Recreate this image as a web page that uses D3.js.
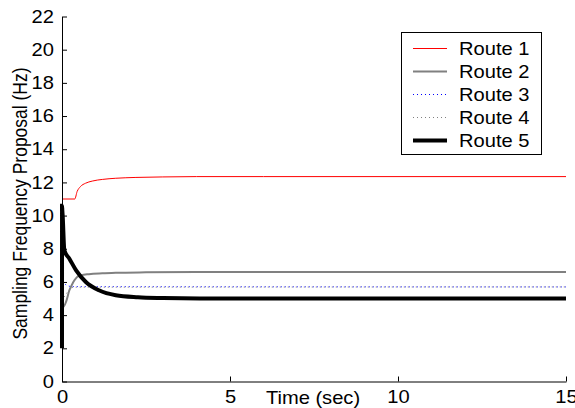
<html>
<head>
<title>Sampling frequency proposal</title>
<style>
    body { margin: 0; background: #fff; }
    svg { font-family: "Liberation Sans", Arial, sans-serif; }
</style>
</head>
<body>
<script src="https://cdn.jsdelivr.net/npm/d3@7"></script>
<script>
    // values
    var route1T = [0, 0.38, 0.45, 0.55, 0.7, 0.9, 1.2, 1.6, 2.2, 3, 4, 6, 15];
    var route1V = [11, 11, 11.45, 11.75, 11.95, 12.08, 12.18, 12.25, 12.3, 12.33, 12.35, 12.35, 12.35];

    var route2T = [0, 0.04, 0.12, 0.22, 0.3, 0.37, 0.45, 0.57, 0.8, 1.2, 1.6, 2.5, 4, 15];
    var route2V = [4.7, 4.5, 4.8, 5.5, 5.85, 6.1, 6.3, 6.4, 6.47, 6.52, 6.55, 6.58, 6.6, 6.6];

    var route3T = [0, 0.1, 0.3, 15];
    var route3V = [6.0, 5.85, 5.72, 5.7];

    var route4T = [0, 0.1, 0.2, 0.35, 15];
    var route4V = [4.9, 5.2, 5.5, 5.68, 5.7];

    var route5T = [0, 0.001, 0.01, 0.02, 0.07, 0.22, 0.42, 0.71, 1.1, 1.6, 2.26, 3, 4.1, 15];
    var route5V = [2, 10.6, 10.3, 10.0, 7.9, 7.4, 6.7, 6.0, 5.5, 5.2, 5.08, 5.03, 5.0, 5.0];

    var xTicks = [0, 5, 10, 15];
    var yTicks = [0, 2, 4, 6, 8, 10, 12, 14, 16, 18, 20, 22];
    var names = ["Route 1", "Route 2", "Route 3", "Route 4", "Route 5"];

    var w = 575, h = 408;
    var fs = 17.5, sx = 1.15;   // text is a bit wider than tall in the original
    var svg = d3.select("body").append("svg").attr("width", w).attr("height", h);

    var x = d3.scaleLinear().domain([0, 15]).range([62, 566]);
    var y = d3.scaleLinear().domain([0, 22]).range([381.5, 16.5]);

    var styles = [
        { color: "#ff0000", width: 1, dash: null },
        { color: "#808080", width: 2, dash: null },
        { color: "#0000ff", width: 1, dash: "1,3" },
        { color: "#808080", width: 1, dash: "1,3" },
        { color: "#000000", width: 4, dash: null }
    ];

    var series = [
        d3.zip(route1T, route1V),
        d3.zip(route2T, route2V),
        d3.zip(route3T, route3V),
        d3.zip(route4T, route4V),
        d3.zip(route5T, route5V)
    ];

    var line = d3.line()
        .x(function (d) { return x(d[0]); })
        .y(function (d) { return y(d[1]); })
        .curve(d3.curveMonotoneX);

    // lines
    series.forEach(function (s, i) {
        svg.append("path")
            .attr("d", line(s))
            .attr("fill", "none")
            .attr("stroke", styles[i].color)
            .attr("stroke-width", styles[i].width)
            .attr("stroke-dasharray", styles[i].dash);
    });

    // axes, ticks inward
    var xAxis = svg.append("g").attr("transform", "translate(0," + y(0) + ")")
        .call(d3.axisBottom(x).tickValues(xTicks).tickSizeInner(-5).tickSizeOuter(0).tickPadding(9));
    var yAxis = svg.append("g").attr("transform", "translate(" + x(0) + ",0)")
        .call(d3.axisLeft(y).tickValues(yTicks).tickSizeInner(-5).tickSizeOuter(0).tickPadding(8));

    [xAxis, yAxis].forEach(function (a) {
        a.select(".domain").attr("stroke", "#000");
        a.selectAll(".tick line").attr("stroke", "#000");
        a.selectAll(".tick text").attr("font-size", fs).attr("fill", "#000")
            .attr("font-family", "Liberation Sans, Arial, sans-serif");
    });
    xAxis.selectAll(".tick text").attr("transform", "scale(" + sx + ",1)");
    yAxis.selectAll(".tick text").attr("x", 0)
        .attr("transform", "translate(-8,0) scale(" + sx + ",1)");

    svg.append("text")
        .attr("transform", "translate(313,403.5) scale(" + sx + ",1)")
        .attr("text-anchor", "middle")
        .attr("font-size", fs)
        .text("Time (sec)");

    svg.append("text")
        .attr("transform", "translate(26.5,203.5) scale(" + sx + ",1) rotate(-90)")
        .attr("text-anchor", "middle")
        .attr("font-size", fs)
        .text("Sampling Frequency Proposal (Hz)");

    // legend
    var leg = svg.append("g");
    leg.append("rect")
        .attr("x", 401.5).attr("y", 32.5).attr("width", 140).attr("height", 122)
        .attr("fill", "#fff").attr("stroke", "#000");

    names.forEach(function (n, i) {
        var ly = 48.5 + i * 23;
        leg.append("line")
            .attr("x1", 413).attr("x2", 447).attr("y1", ly).attr("y2", ly)
            .attr("stroke", styles[i].color)
            .attr("stroke-width", styles[i].width)
            .attr("stroke-dasharray", styles[i].dash);
        leg.append("text")
            .attr("transform", "translate(459," + (ly + 6.3) + ") scale(" + sx + ",1)")
            .attr("font-size", fs)
            .text(n);
    });
</script>
</body>
</html>
